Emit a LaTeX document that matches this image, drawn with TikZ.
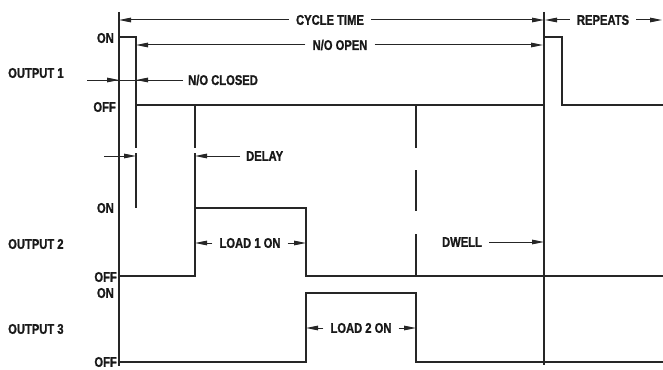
\documentclass[tikz,border=0pt]{standalone}
\usepackage{fontspec}
\setmainfont{Liberation Sans}[FakeStretch=0.8, BoldFeatures={FakeBold=1.2}]
\usetikzlibrary{arrows.meta}
\begin{document}
\begin{tikzpicture}[x=1pt,y=-1pt,
  sig/.style={line width=1.3pt, draw=black!85, line join=miter},
  dimline/.style={line width=1pt, draw=black!85},
  tipend/.style={-{Triangle[length=12pt,width=4.6pt]}},
  lbl/.style={font=\bfseries\fontsize{14}{15}\selectfont, text=black!90, inner xsep=7pt, inner ysep=1pt},
  lvl/.style={font=\bfseries\fontsize{14}{15}\selectfont, text=black!90, anchor=east, inner sep=0pt},
  outl/.style={font=\bfseries\fontsize{14}{15}\selectfont, text=black!90, anchor=west, inner sep=0pt}]
\useasboundingbox (0,0) rectangle (663,369);

% ---- coordinates ----
\coordinate (A0) at (119,12);   \coordinate (A1) at (119,366);
\coordinate (F0) at (544,12);   \coordinate (F1) at (544,365);
\coordinate (A37) at (119,37);  \coordinate (B37) at (136,37);
\coordinate (Bg1) at (136,148); \coordinate (Bg2) at (136,153);
\coordinate (B208) at (136,208); \coordinate (B105) at (136,105);
\coordinate (F105) at (544,105); \coordinate (F37) at (544,37);
\coordinate (G37) at (562,37);  \coordinate (G105) at (562,105);
\coordinate (R105) at (663,105);
\coordinate (A276) at (119,276); \coordinate (C276) at (195,276);
\coordinate (C208) at (195,208); \coordinate (D208) at (306,208);
\coordinate (D276) at (306,276); \coordinate (R276) at (663,276);
\coordinate (C105) at (195,105); \coordinate (Cg1) at (195,148);
\coordinate (Cg2) at (195,153);
\coordinate (A362) at (119,362); \coordinate (D362) at (306,362);
\coordinate (D293) at (306,293); \coordinate (E293) at (416,293);
\coordinate (E362) at (416,362); \coordinate (R362) at (663,362);
\coordinate (E105) at (416,105); \coordinate (E148) at (416,148);
\coordinate (E170) at (416,170); \coordinate (E211) at (416,211);
\coordinate (E234) at (416,234); \coordinate (E276) at (416,276);

% ---- signal lines ----
\draw[sig] (A0) -- (A1);
\draw[sig] (F0) -- (F1);
\draw[sig] (A37) -- (B37) -- (Bg1);
\draw[sig] (Bg2) -- (B208);
\draw[sig] (B105) -- (F105);
\draw[sig] (F37) -- (G37) -- (G105) -- (R105);
\draw[sig] (A276) -- (C276) -- (C208) -- (D208) -- (D276) -- (R276);
\draw[sig] (C105) -- (Cg1);
\draw[sig] (Cg2) -- (C208);
\draw[sig] (A362) -- (D362) -- (D293) -- (E293) -- (E362) -- (R362);
\draw[sig] (E105) -- (E148);
\draw[sig] (E170) -- (E211);
\draw[sig] (E234) -- (E276);

% ---- level and output labels ----
\node[lvl] (on1) at (114,38) {ON};
\node[lvl] (off1) at (116,107) {OFF};
\node[outl] (out1) at (8,73) {OUTPUT 1};
\node[lvl] (on2) at (114,208) {ON};
\node[outl] (out2) at (8,244) {OUTPUT 2};
\node[lvl] (off2) at (117,277) {OFF};
\node[lvl] (on3) at (114,293) {ON};
\node[outl] (out3) at (8,329) {OUTPUT 3};
\node[lvl] (off3) at (117,362) {OFF};

% ---- dimensions ----
\node[lbl] (cyc) at (330,20) {CYCLE TIME};
\coordinate (A20) at (119,20); \coordinate (F20) at (544,20);
\draw[dimline,tipend] (cyc.west) -- (A20);
\draw[dimline,tipend] (cyc.east) -- (F20);

\node[lbl] (rep) at (603,20) {REPEATS};
\coordinate (F20r) at (545,20); \coordinate (R20) at (662,20);
\draw[dimline,tipend] (rep.west) -- (F20r);
\draw[dimline,tipend] (rep.east) -- (R20);

\node[lbl] (noo) at (340,45) {N/O OPEN};
\coordinate (B45) at (136,45); \coordinate (F45) at (543,45);
\draw[dimline,tipend] (noo.west) -- (B45);
\draw[dimline,tipend] (noo.east) -- (F45);

\node[lbl, anchor=west, inner xsep=5pt] (ncl) at (183,80) {N/O CLOSED};
\coordinate (nc0) at (87,80); \coordinate (A80) at (119,80); \coordinate (B80) at (136,80);
\draw[dimline] (nc0) -- (ncl.west);
\draw[dimline,tipend] (nc0) -- (A80);
\draw[dimline,tipend] (ncl.west) -- (B80);

\node[lbl, anchor=west, inner xsep=6pt] (dly) at (240,156) {DELAY};
\coordinate (dl0) at (104,156); \coordinate (B156) at (136,156); \coordinate (C156) at (195,156);
\draw[dimline,tipend] (dl0) -- (B156);
\draw[dimline,tipend] (dly.west) -- (C156);

\node[lbl] (l1) at (250,243) {LOAD 1 ON};
\coordinate (C243) at (195,243); \coordinate (D243) at (306,243);
\draw[dimline,tipend] (l1.west) -- (C243);
\draw[dimline,tipend] (l1.east) -- (D243);

\node[lbl] (l2) at (361,328) {LOAD 2 ON};
\coordinate (D328) at (306,328); \coordinate (E328) at (416,328);
\draw[dimline,tipend] (l2.west) -- (D328);
\draw[dimline,tipend] (l2.east) -- (E328);

\node[lbl] (dw) at (462,242) {DWELL};
\coordinate (F242) at (544,242);
\draw[dimline,tipend] (dw.east) -- (F242);
\end{tikzpicture}
\end{document}
